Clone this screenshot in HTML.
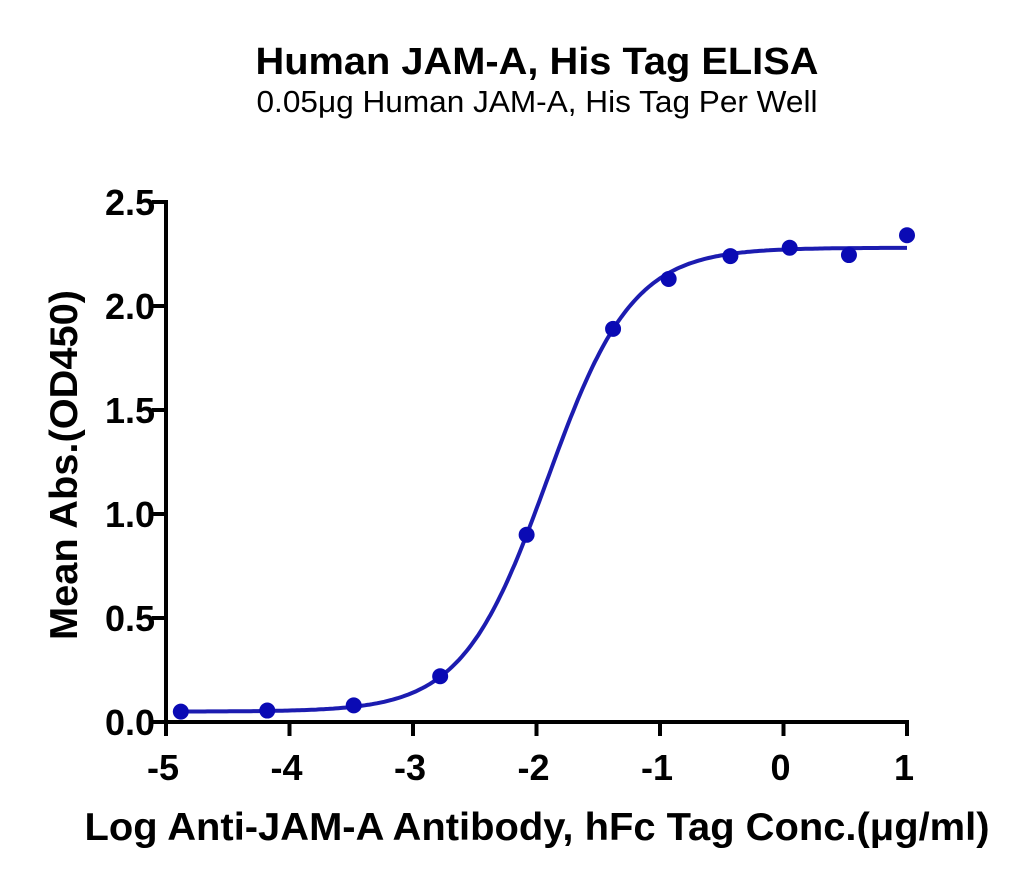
<!DOCTYPE html>
<html><head><meta charset="utf-8"><style>
body{margin:0;background:#fff;width:1030px;height:883px;overflow:hidden}
text{font-family:"Liberation Sans",Arial,sans-serif}
</style></head><body>
<svg id="chart" width="1030" height="883" xmlns="http://www.w3.org/2000/svg">
<text x="537" y="74" text-anchor="middle" font-size="38" font-weight="bold" textLength="563" lengthAdjust="spacingAndGlyphs">Human JAM-A, His Tag ELISA</text>
<text x="537" y="112" text-anchor="middle" font-size="31" textLength="561" lengthAdjust="spacingAndGlyphs">0.05μg Human JAM-A, His Tag Per Well</text>
<text transform="translate(77,465) rotate(-90)" text-anchor="middle" font-size="39" font-weight="bold" textLength="350" lengthAdjust="spacingAndGlyphs">Mean Abs.(OD450)</text>
<text x="537" y="840" text-anchor="middle" font-size="39" font-weight="bold" textLength="905" lengthAdjust="spacingAndGlyphs">Log Anti-JAM-A Antibody, hFc Tag Conc.(μg/ml)</text>
<g id="axes"></g><g id="marks"></g>
</svg>
<script>
const xVals=[-4.88,-4.18,-3.48,-2.78,-2.08,-1.38,-0.93,-0.43,0.05,0.53,1.0];
const yVals=[0.05,0.055,0.08,0.22,0.9,1.89,2.13,2.24,2.28,2.245,2.34];
const fitParams=[0.05,2.28,-1.913,1.26]; // bottom, top, logEC50, hill
const xTicks=[-5,-4,-3,-2,-1,0,1];
const yTicks=[0,0.5,1,1.5,2,2.5];
const yTickLabels=["0.0","0.5","1.0","1.5","2.0","2.5"];
const X0=166,X1=907,Y0=722,Y1=202;
const sx=v=>X0+(v+5)/6*(X1-X0), sy=v=>Y0-v/2.5*(Y0-Y1);
const NS="http://www.w3.org/2000/svg";
function mk(tag,attrs,parent,txt){const e=document.createElementNS(NS,tag);for(const k in attrs)e.setAttribute(k,attrs[k]);if(txt!==undefined)e.textContent=txt;parent.appendChild(e);return e;}
const ax=document.getElementById('axes'),mg=document.getElementById('marks');
let e=mk('line',{x1:X0,y1:Y1-2,x2:X0,y2:Y0+2,stroke:'#000','stroke-width':4},ax);


e=mk('line',{x1:X0-2,y1:Y0,x2:X1+2,y2:Y0,stroke:'#000','stroke-width':4},ax);


yTicks.forEach((t,i)=>{
 let l=mk('line',{x1:X0-14,y1:sy(t),x2:X0,y2:sy(t),stroke:'#000','stroke-width':4},ax);
 
 
 let tx=mk('text',{x:X0-11,y:sy(t)+13,'text-anchor':'end','font-size':36,'font-weight':'bold'},ax,yTickLabels[i]);
 
 
});
xTicks.forEach(t=>{
 let l=mk('line',{x1:sx(t),y1:Y0,x2:sx(t),y2:Y0+14,stroke:'#000','stroke-width':4},ax);
 
 
 let tx=mk('text',{x:sx(t)-3,y:Y0+58,'text-anchor':'middle','font-size':36,'font-weight':'bold'},ax,String(t));
 
 
});
const [b,tp,ec,h]=fitParams;
let d='';
for(let i=0;i<=300;i++){const x=-4.88+(1.0+4.88)*i/300;const y=b+(tp-b)/(1+Math.pow(10,(ec-x)*h));d+=(i?'L':'M')+sx(x).toFixed(1)+','+sy(y).toFixed(1);}
e=mk('path',{d:d,fill:'none',stroke:'#1c1cb0','stroke-width':4},mg);


xVals.forEach((x,i)=>{
 let c=mk('circle',{cx:sx(x),cy:sy(yVals[i]),r:8,fill:'#0a0ab4'},mg);
 
 
});
</script>
</body></html>
